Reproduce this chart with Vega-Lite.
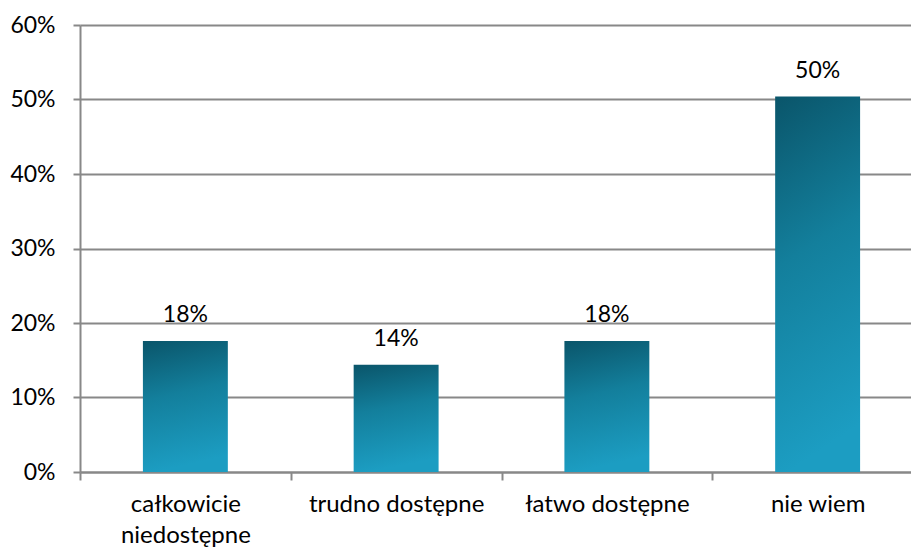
{
  "$schema": "https://vega.github.io/schema/vega-lite/v6.json",
  "autosize": "none",
  "width": 843,
  "height": 447,
  "padding": {"left": 80, "top": 25, "right": 0, "bottom": 78},
  "background": "white",
  "data": {
    "values": [
      {"kategoria": "całkowicie niedostępne", "udzial": 0.176},
      {"kategoria": "trudno dostępne", "udzial": 0.144},
      {"kategoria": "łatwo dostępne", "udzial": 0.176},
      {"kategoria": "nie wiem", "udzial": 0.504}
    ]
  },
  "encoding": {
    "x": {
      "field": "kategoria",
      "type": "nominal",
      "sort": null,
      "scale": {"paddingInner": 0, "paddingOuter": 0},
      "axis": {
        "title": null,
        "labelAngle": 0,
        "labelFont": "Lato",
        "labelFontSize": 24,
        "labelColor": "#000000",
        "labelPadding": 12,
        "labelLineHeight": 31,
        "labelExpr": "datum.value == 'całkowicie niedostępne' ? ['całkowicie', 'niedostępne'] : datum.value",
        "tickBand": "extent",
        "tickSize": 8,
        "tickColor": "#888888",
        "tickWidth": 2,
        "domainColor": "#888888",
        "domainWidth": 2,
        "grid": false
      }
    },
    "y": {
      "field": "udzial",
      "type": "quantitative",
      "scale": {"domain": [0, 0.6], "nice": false},
      "axis": {
        "title": null,
        "values": [0, 0.1, 0.2, 0.3, 0.4, 0.5, 0.6],
        "format": ".0%",
        "labelFont": "Lato",
        "labelFontSize": 23,
        "labelColor": "#000000",
        "labelPadding": 18,
        "tickSize": 7,
        "tickColor": "#888888",
        "tickWidth": 2,
        "domainColor": "#888888",
        "domainWidth": 2,
        "grid": true,
        "gridColor": "#888888",
        "gridWidth": 2
      }
    }
  },
  "layer": [
    {
      "mark": {
        "type": "bar",
        "width": {"band": 0.403},
        "color": {
          "gradient": "linear",
          "x1": 0, "y1": 0, "x2": 0.15, "y2": 1,
          "stops": [
            {"offset": 0, "color": "#0a556a"},
            {"offset": 0.45, "color": "#137f9c"},
            {"offset": 1, "color": "#1c9dc2"}
          ]
        }
      }
    },
    {
      "mark": {
        "type": "text",
        "font": "Lato",
        "fontSize": 23,
        "color": "#000000",
        "baseline": "middle",
        "dy": -26
      },
      "encoding": {
        "text": {"field": "udzial", "type": "quantitative", "format": ".0%"}
      }
    }
  ],
  "config": {"view": {"stroke": null}}
}
